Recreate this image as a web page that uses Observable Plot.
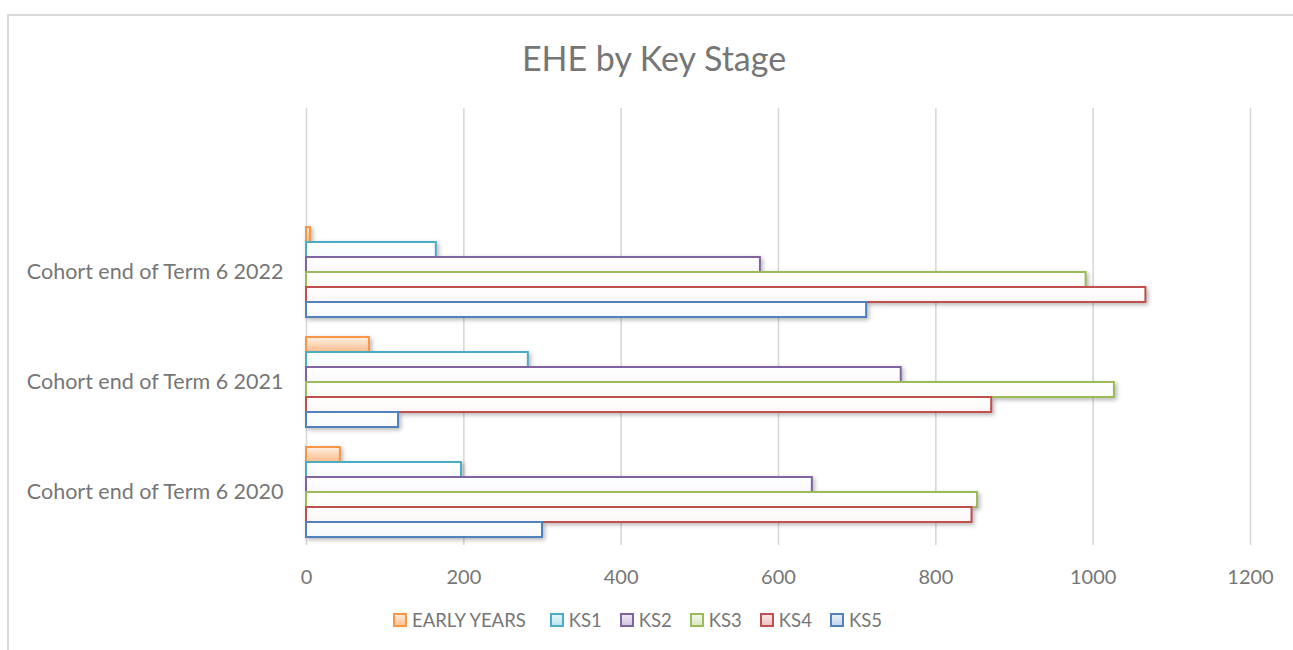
<!DOCTYPE html>
<html>
<head>
<meta charset="utf-8">
<script src="https://cdn.jsdelivr.net/npm/d3@7"></script>
<script src="https://cdn.jsdelivr.net/npm/@observablehq/plot@0.6"></script>
<style>
  body { margin: 0; background: #fff; font-family: Lato, "Open Sans", sans-serif; }
  #wrap { position: relative; width: 1293px; height: 650px; overflow: hidden; background: #fff; }
  #frame { position: absolute; left: 7px; top: 14px; width: 1320px; height: 700px;
           border-left: 2px solid #d9d9d9; border-top: 2px solid #d9d9d9; }
  #title { position: absolute; left: 0; top: 36px; width: 1308px; height: 44px; line-height: 44px;
           text-align: center; font-size: 34px; color: #767676; margin: 0; font-weight: normal; }
  #chart { position: absolute; left: 0; top: 80px; width: 1293px; height: 510px; }
  #chart svg { position: absolute; left: 0; top: 0; }
  svg.bars g[aria-label="bar"] { filter: drop-shadow(2px 2px 2px rgba(0,0,0,0.28)); }
  #legend { position: absolute; left: 393px; top: 608px; height: 24px; display: flex; align-items: center;
            font-size: 18.5px; color: #767676; }
  #legend .item { display: flex; align-items: center; margin-right: 18px; }
  #legend .item:first-child { margin-right: 24px; }
  #legend .sw { width: 10px; height: 10px; border: 2px solid; margin-right: 5px; box-sizing: content-box; }
</style>
</head>
<body>
<svg width="0" height="0" style="position:absolute">
  <defs>
    <linearGradient id="gEY" x1="0" y1="0" x2="0" y2="1">
      <stop offset="0" stop-color="#fff1e6"/><stop offset="0.5" stop-color="#fdd6b8"/><stop offset="1" stop-color="#fbbb88"/>
    </linearGradient>
    <linearGradient id="gKS1" x1="0" y1="0" x2="0" y2="1"><stop offset="0" stop-color="#ffffff"/><stop offset="1" stop-color="#f6fbfc"/></linearGradient>
    <linearGradient id="gKS2" x1="0" y1="0" x2="0" y2="1"><stop offset="0" stop-color="#ffffff"/><stop offset="1" stop-color="#f9f7fb"/></linearGradient>
    <linearGradient id="gKS3" x1="0" y1="0" x2="0" y2="1"><stop offset="0" stop-color="#ffffff"/><stop offset="1" stop-color="#fafcf6"/></linearGradient>
    <linearGradient id="gKS4" x1="0" y1="0" x2="0" y2="1"><stop offset="0" stop-color="#ffffff"/><stop offset="1" stop-color="#fcf6f6"/></linearGradient>
    <linearGradient id="gKS5" x1="0" y1="0" x2="0" y2="1"><stop offset="0" stop-color="#ffffff"/><stop offset="1" stop-color="#f6f9fc"/></linearGradient>
  </defs>
</svg>
<div id="wrap">
  <div id="frame"></div>
  <div id="title">EHE by Key Stage</div>
  <div id="chart"></div>
  <div id="legend"></div>
</div>
<script>
// ---- data ----
const cohorts = ["Cohort end of Term 6 2022", "Cohort end of Term 6 2021", "Cohort end of Term 6 2020"];
const series = ["EARLY YEARS", "KS1", "KS2", "KS3", "KS4", "KS5"];
// values listed in cohort order: 2022, 2021, 2020
const earlyYears = [5, 80, 43];
const ks1 = [165, 282, 197];
const ks2 = [577, 756, 643];
const ks3 = [991, 1027, 853];
const ks4 = [1067, 871, 846];
const ks5 = [712, 117, 300];
const xTicks = [0, 200, 400, 600, 800, 1000, 1200];

// ---- styles ----
const strokeColors = ["#F79646", "#4BACC6", "#8064A2", "#9BBB59", "#C0504D", "#4F81BD"];
const fillRefs = ["url(#gEY)", "url(#gKS1)", "url(#gKS2)", "url(#gKS3)", "url(#gKS4)", "url(#gKS5)"];
const swatchFills = [
  "linear-gradient(#fde9d9,#fbc08f)", "linear-gradient(#e6f5f9,#bfe4ee)", "linear-gradient(#ece7f3,#d0c5e1)",
  "linear-gradient(#f2f7e9,#dbe8c3)", "linear-gradient(#f9e7e7,#efc3c2)", "linear-gradient(#e9eff8,#c5d6ee)"
];

const valuesBySeries = [earlyYears, ks1, ks2, ks3, ks4, ks5];
const rows = [];
cohorts.forEach((c, ci) => {
  series.forEach((s, si) => {
    rows.push({cohort: c, series: s, value: valuesBySeries[si][ci]});
  });
});
const strokeOf = new Map(series.map((s, i) => [s, strokeColors[i]]));
const fillOf = new Map(series.map((s, i) => [s, fillRefs[i]]));

const W = 1293, H = 510, ML = 306, MR = 43;
const font = {fontFamily: "Lato, 'Open Sans', sans-serif", fontSize: "20px", color: "#767676", background: "transparent", overflow: "visible"};

// background: gridlines + x axis
const gridPlot = Plot.plot({
  width: W, height: H,
  marginTop: 28, marginBottom: 45, marginLeft: ML, marginRight: MR,
  style: font,
  x: {domain: [0, 1200], ticks: 6, tickSize: 0, tickPadding: 24, label: null, tickFormat: d => String(d)},
  marks: [
    Plot.ruleX(xTicks, {stroke: "#d9d9d9", strokeWidth: 1.6, strokeOpacity: 1})
  ]
});

// foreground: grouped bars, faceted by cohort
const barPlot = Plot.plot({
  width: W, height: H,
  marginTop: 137, marginBottom: 43, marginLeft: ML, marginRight: MR,
  style: {...font, fontSize: "21.5px"},
  x: {domain: [0, 1200], axis: null},
  y: {domain: series, axis: null, paddingInner: 0, paddingOuter: 0.5},
  fy: {domain: cohorts, padding: 0, label: null, axis: "left", tickSize: 0, tickPadding: 23},
  color: {type: "identity"},
  facet: {data: rows, y: "cohort"},
  marks: [
    Plot.barX(rows, {
      x: "value", y: "series",
      fill: d => fillOf.get(d.series),
      stroke: d => strokeOf.get(d.series),
      strokeWidth: 2
    })
  ]
});
barPlot.classList.add("bars");

const chart = document.getElementById("chart");
chart.appendChild(gridPlot);
chart.appendChild(barPlot);

// legend
const legend = document.getElementById("legend");
series.forEach((s, i) => {
  const item = document.createElement("div");
  item.className = "item";
  const sw = document.createElement("span");
  sw.className = "sw";
  sw.style.borderColor = strokeColors[i];
  sw.style.background = swatchFills[i];
  const t = document.createElement("span");
  t.textContent = s;
  item.appendChild(sw);
  item.appendChild(t);
  legend.appendChild(item);
});
</script>
</body>
</html>
